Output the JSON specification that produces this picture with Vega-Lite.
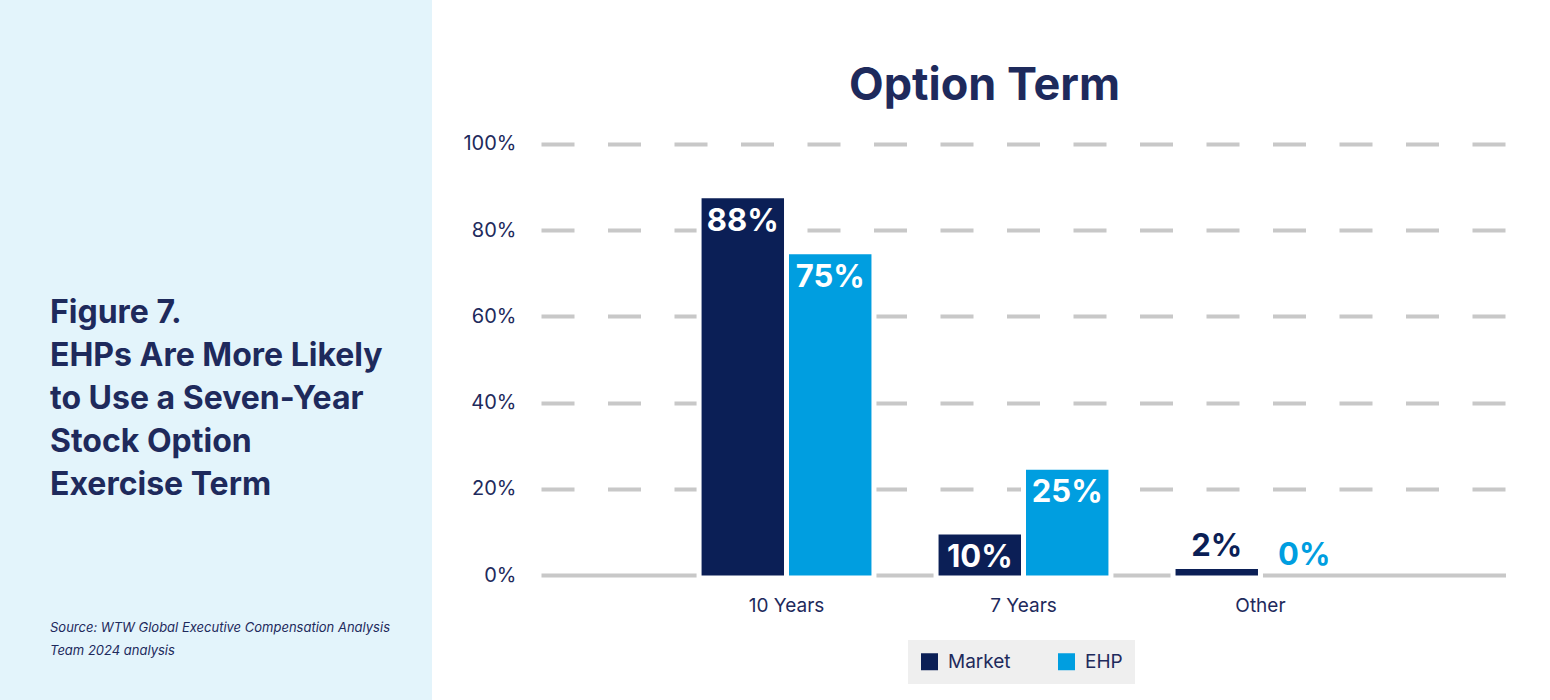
{
  "$schema": "https://vega.github.io/schema/vega-lite/v6.json",
  "background": "white",
  "padding": 0,
  "spacing": 30,
  "config": {"view": {"stroke": null}, "font": "Inter"},
  "hconcat": [
    {
      "width": 432,
      "height": 700,
      "view": {"fill": "#e3f4fb", "stroke": null},
      "data": {"values": []},
      "mark": "text",
      "title": {
        "text": ["Figure 7.", "EHPs Are More Likely", "to Use a Seven-Year", "Stock Option", "Exercise Term"],
        "subtitle": ["Source: WTW Global Executive Compensation Analysis", "Team 2024 analysis"],
        "orient": "bottom",
        "anchor": "start",
        "frame": "group",
        "offset": -377,
        "dx": 50,
        "baseline": "alphabetic",
        "font": "Inter",
        "fontSize": 32,
        "fontWeight": "bold",
        "lineHeight": 43,
        "color": "#1e2a5c",
        "subtitleFont": "Inter",
        "subtitleFontSize": 13,
        "subtitleFontStyle": "italic",
        "subtitleLineHeight": 23,
        "subtitleColor": "#1e2a5c",
        "subtitlePadding": 105
      }
    },
    {
      "width": 965,
      "height": 575,
      "data": {
        "values": [
          {"term": "10 Years", "series": "Market", "value": 0.88},
          {"term": "10 Years", "series": "EHP", "value": 0.75},
          {"term": "7 Years", "series": "Market", "value": 0.10},
          {"term": "7 Years", "series": "EHP", "value": 0.25},
          {"term": "Other", "series": "Market", "value": 0.02},
          {"term": "Other", "series": "EHP", "value": 0.0}
        ]
      },
      "title": {
        "text": "Option Term",
        "orient": "top",
        "anchor": "middle",
        "frame": "bounds",
        "offset": -145,
        "baseline": "alphabetic",
        "font": "Inter",
        "fontSize": 45,
        "fontWeight": "bold",
        "color": "#1e2a5c"
      },
      "encoding": {
        "x": {
          "field": "term",
          "type": "nominal",
          "sort": ["10 Years", "7 Years", "Other"],
          "scale": {"paddingInner": 0.262, "paddingOuter": 0.667},
          "axis": {
            "title": null,
            "domain": false,
            "ticks": false,
            "tickSize": 0,
            "grid": false,
            "labelAngle": 0,
            "labelPadding": 21,
            "labelFontSize": 19,
            "labelFont": "Inter",
            "labelColor": "#1e2a5c"
          }
        },
        "xOffset": {
          "field": "series",
          "type": "nominal",
          "sort": ["Market", "EHP"],
          "scale": {"domain": ["Market", "EHP"], "paddingInner": 0, "paddingOuter": 0}
        },
        "y": {
          "field": "value",
          "type": "quantitative",
          "scale": {"domain": [0, 1.3341], "nice": false, "zero": true},
          "axis": {
            "title": null,
            "values": [0, 0.2, 0.4, 0.6, 0.8, 1],
            "format": ".0%",
            "domain": false,
            "ticks": false,
            "tickSize": 0,
            "labelPadding": 25,
            "labelFontSize": 20,
            "labelFont": "Inter",
            "labelColor": "#1e2a5c",
            "grid": true,
            "gridColor": "#c8c8c8",
            "gridWidth": 4,
            "gridOpacity": 1,
            "gridDash": {"condition": {"test": "datum.value === 0", "value": []}, "value": [33, 33.5]}
          }
        }
      },
      "layer": [
        {
          "transform": [{"filter": "datum.value > 0"}],
          "mark": {"type": "bar", "stroke": "white", "strokeWidth": 5},
          "encoding": {
            "y2": {"datum": -0.007},
            "color": {
              "field": "series",
              "type": "nominal",
              "sort": ["Market", "EHP"],
              "scale": {"domain": ["Market", "EHP"], "range": ["#0b1f56", "#009ee0"]},
              "legend": {
                "title": null,
                "orient": "none",
                "legendX": 908,
                "legendY": 640,
                "direction": "horizontal",
                "fillColor": "#efefef",
                "padding": 12,
                "symbolType": "square",
                "symbolSize": 289,
                "symbolStrokeWidth": 0,
                "symbolOpacity": 1,
                "labelFontSize": 19,
                "labelFont": "Inter",
                "labelColor": "#1e2a5c",
                "labelOffset": 9,
                "columnPadding": 46,
                "encode": {
                  "symbols": {
                    "update": {
                      "fill": {"signal": "datum.value === 'EHP' ? '#33afe3' : '#0b1f56'"}
                    }
                  }
                }
              }
            }
          }
        },
        {
          "transform": [{"filter": "datum.value >= 0.05"}],
          "mark": {
            "type": "text",
            "color": "white",
            "font": "Inter",
            "fontSize": 31,
            "fontWeight": "bold",
            "baseline": "alphabetic",
            "align": "center",
            "dy": 35
          },
          "encoding": {
            "text": {"field": "value", "type": "quantitative", "format": ".0%"}
          }
        },
        {
          "transform": [{"filter": "datum.value < 0.05"}],
          "mark": {
            "type": "text",
            "font": "Inter",
            "fontSize": 31,
            "fontWeight": "bold",
            "baseline": "alphabetic",
            "align": "center",
            "dy": -10
          },
          "encoding": {
            "text": {"field": "value", "type": "quantitative", "format": ".0%"},
            "color": {
              "condition": {"test": "datum.series === 'Market'", "value": "#0b1f56"},
              "value": "#009ee0"
            }
          }
        }
      ]
    }
  ]
}
